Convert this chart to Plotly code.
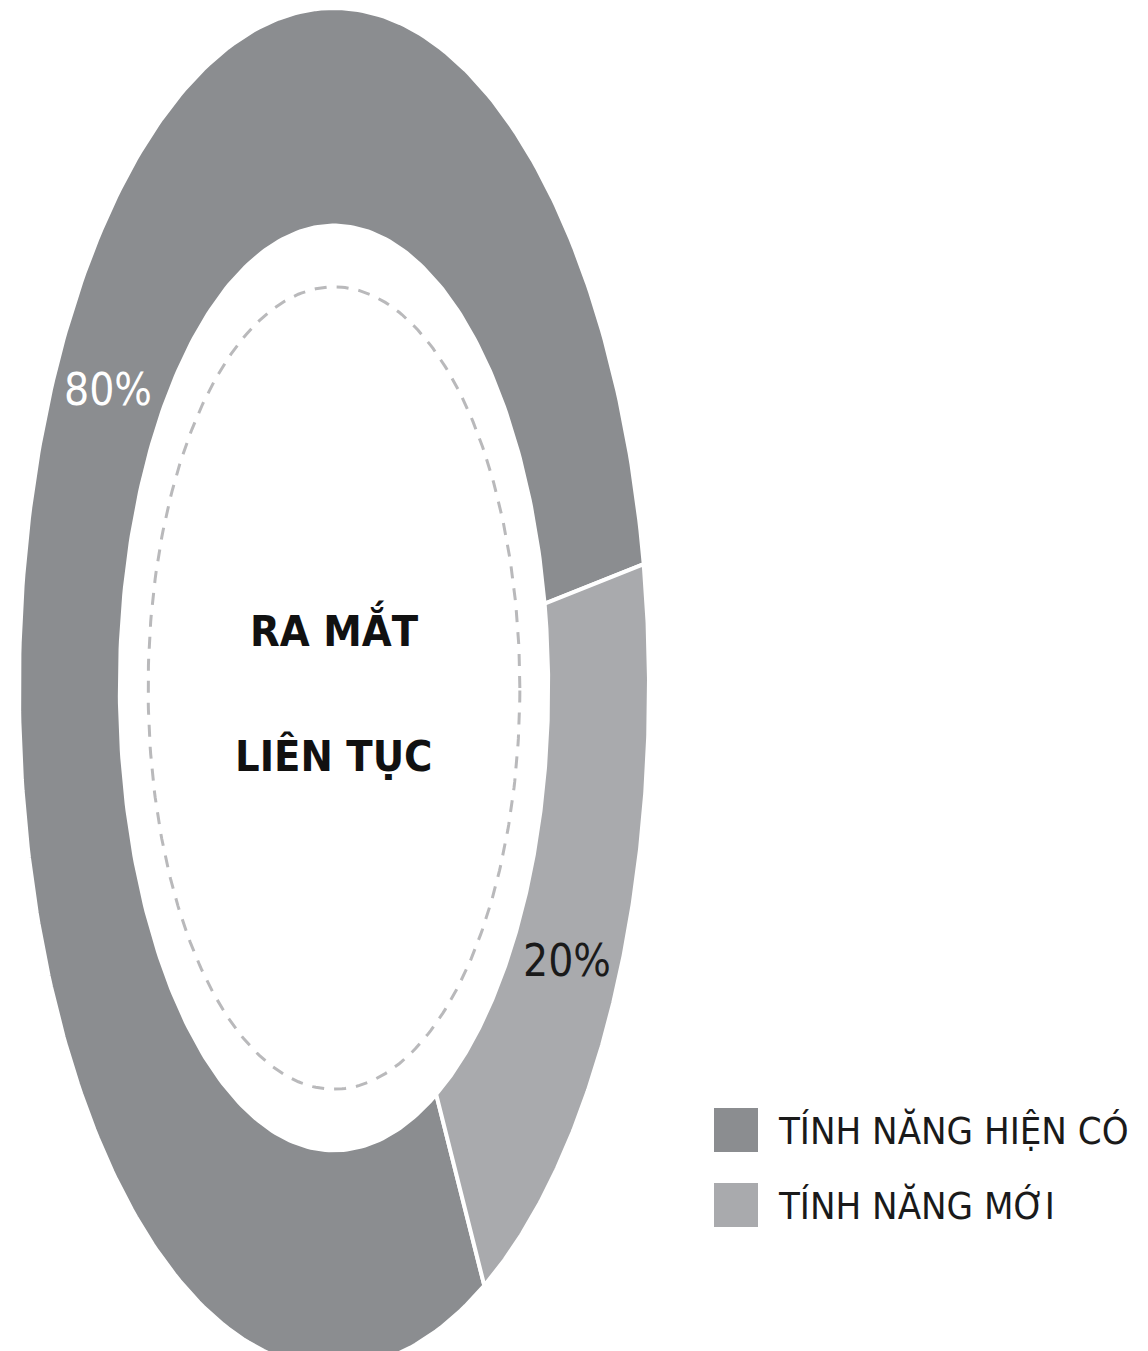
import numpy as np
import plotly.graph_objects as go

# ---- data ----
labels = ["TÍNH NĂNG HIỆN CÓ", "TÍNH NĂNG MỚI"]
values = [80, 20]
pct_text = ["80%", "20%"]
colors = ["#8b8d90", "#a9aaad"]
pct_colors = ["#ffffff", "#1a1a1a"]
center_lines = ["RA MẮT", "LIÊN TỤC"]

# ---- geometry / style ----
ROTATION = -61.5      # degrees, where the first slice starts (clockwise)
HOLE = 0.68           # inner radius relative to outer
DASH_R = 0.59         # dashed ring radius
LABEL_SHIFT = [-6.0, -3.0]   # degrees, fine placement of percentage labels
W, H = 1148, 1351
CX_PX, CY_PX, RX_PX, RY_PX = 326, 680, 315, 680

NARROW = "DejaVu Sans Condensed, Liberation Sans Narrow, Arial Narrow, sans-serif"

fig = go.Figure()

total = float(sum(values))
start = ROTATION
mids = []
for lab, v, col in zip(labels, values, colors):
    span = v / total * 360.0
    end = start - span
    t = np.radians(np.linspace(start, end, 300))
    xo, yo = np.cos(t), np.sin(t)
    xi, yi = HOLE * np.cos(t[::-1]), HOLE * np.sin(t[::-1])
    xs = np.concatenate([xo, xi, xo[:1]])
    ys = np.concatenate([yo, yi, yo[:1]])
    fig.add_trace(go.Scatter(x=xs, y=ys, mode="lines", fill="toself",
                             fillcolor=col, line=dict(color="white", width=4),
                             name=lab, hoverinfo="skip", showlegend=False))
    mids.append((start + end) / 2)
    start = end

# dashed inner ring
td = np.linspace(0, 2 * np.pi, 400)
fig.add_trace(go.Scatter(x=DASH_R * np.cos(td), y=DASH_R * np.sin(td), mode="lines",
                         line=dict(color="#b9b9bb", width=3, dash="12px,10px"),
                         hoverinfo="skip", showlegend=False))

annotations = []
rm = (1 + HOLE) / 2
for m, sh, txt, c in zip(mids, LABEL_SHIFT, pct_text, pct_colors):
    a = np.radians(m + sh)
    annotations.append(dict(x=rm * np.cos(a), y=rm * np.sin(a), text=txt, showarrow=False,
                            font=dict(family=NARROW, size=44, color=c),
                            xanchor="center", yanchor="middle"))

for i, line in enumerate(center_lines):
    annotations.append(dict(x=0, y=0, text="<b>" + line + "</b>", showarrow=False,
                            yshift=60 - 128 * i,
                            font=dict(family=NARROW, size=43, color="#111111"),
                            xanchor="center", yanchor="middle"))

# legend (drawn on pixel-like overlay axes)
LEG_X, LEG_Y0, LEG_DY = 728, 1122, 75
leg_y = [LEG_Y0 + LEG_DY * i for i in range(len(labels))]
fig.add_trace(go.Scatter(x=[LEG_X] * len(labels), y=leg_y, mode="markers",
                         marker=dict(symbol="square", size=44, color=colors, line=dict(width=0)),
                         xaxis="x2", yaxis="y2", hoverinfo="skip", showlegend=False))
for lab, yy in zip(labels, leg_y):
    annotations.append(dict(x=LEG_X + 40, y=yy, xref="x2", yref="y2", text=lab, showarrow=False,
                            font=dict(family=NARROW, size=38, color="#1a1a1a"),
                            xanchor="left", yanchor="middle"))

fig.update_layout(
    width=W, height=H,
    margin=dict(l=0, r=0, t=0, b=0),
    paper_bgcolor="white", plot_bgcolor="white",
    showlegend=False,
    xaxis=dict(range=[-CX_PX / RX_PX, (W - CX_PX) / RX_PX], visible=False, fixedrange=True),
    yaxis=dict(range=[-(H - CY_PX) / RY_PX, CY_PX / RY_PX], visible=False, fixedrange=True),
    xaxis2=dict(range=[0, W], overlaying="x", visible=False, fixedrange=True),
    yaxis2=dict(range=[H, 0], overlaying="y", visible=False, fixedrange=True),
    annotations=annotations,
)

fig.write_html("out.html")
